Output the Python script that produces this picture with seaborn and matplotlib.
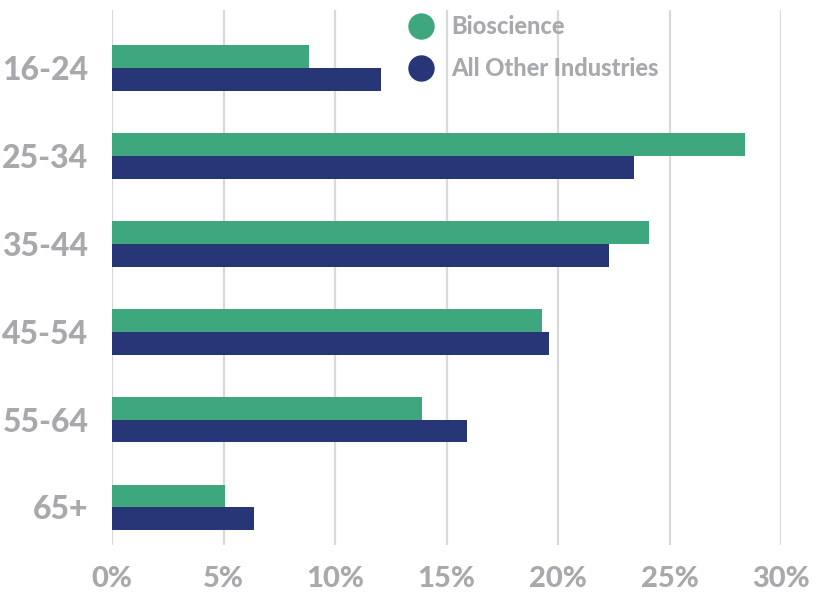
import matplotlib
matplotlib.use('Agg')
import numpy as np
import pandas as pd
import seaborn as sns
import matplotlib.pyplot as plt
from matplotlib.lines import Line2D
from matplotlib import font_manager as fm

# values (percent of workforce)
age_groups = ['16-24', '25-34', '35-44', '45-54', '55-64', '65+']
bioscience = [8.85, 28.4, 24.1, 19.3, 13.9, 5.05]
all_other = [12.05, 23.4, 22.3, 19.6, 15.9, 6.35]
series_names = ['Bioscience', 'All Other Industries']
x_ticks = [0, 5, 10, 15, 20, 25, 30]

green = '#3EA77E'
navy = '#273677'
grey_txt = '#A7A9AC'

df = pd.DataFrame({
    'age': age_groups * 2,
    'share': bioscience + all_other,
    'group': [series_names[0]] * len(age_groups) + [series_names[1]] * len(age_groups),
})

sns.set_style('white')
plt.rcParams['font.family'] = 'Lato'

# heavy Lato file picked directly
heavy_path = None
for f in fm.fontManager.ttflist:
    if f.fname.endswith('Lato-Black.ttf'):
        heavy_path = f.fname
        break


def lato(size):
    if heavy_path:
        return fm.FontProperties(fname=heavy_path, size=size)
    return fm.FontProperties(family='Lato', weight='black', size=size)


fig = plt.figure(figsize=(8.25, 6.01), dpi=100)
ax = fig.add_axes([0.1358, 0.093, 0.8109, 0.890])

sns.barplot(data=df, y='age', x='share', hue='group', orient='h',
            palette=[green, navy], width=0.52, ax=ax, legend=False,
            saturation=1, edgecolor='none')

ax.set_xlim(0, 30)
ax.set_ylim(5.43, -0.66)
ax.set_xticks(x_ticks)
ax.set_xticklabels([f'{t}%' for t in x_ticks])
ax.xaxis.grid(True, color='#D9D9D9', linewidth=1.6)
ax.set_axisbelow(True)
for s in ax.spines.values():
    s.set_visible(False)
ax.set_xlabel('')
ax.set_ylabel('')
ax.tick_params(axis='y', length=0, pad=17, labelcolor=grey_txt)
ax.tick_params(axis='x', length=0, pad=15, labelcolor=grey_txt)
for lbl in ax.get_yticklabels():
    lbl.set_fontproperties(lato(23))
for lbl in ax.get_xticklabels():
    lbl.set_fontproperties(lato(21))

handles = [Line2D([0], [0], marker='o', linestyle='none', markersize=18,
                  markerfacecolor=c, markeredgecolor=c) for c in (green, navy)]
leg = fig.legend(handles, series_names, loc='upper left',
                 bbox_to_anchor=(0.47, 0.99), frameon=False,
                 prop=lato(17), labelspacing=0.8, handletextpad=0.3,
                 borderaxespad=0)
for t in leg.get_texts():
    t.set_color(grey_txt)

fig.savefig('out.png', dpi=100)
